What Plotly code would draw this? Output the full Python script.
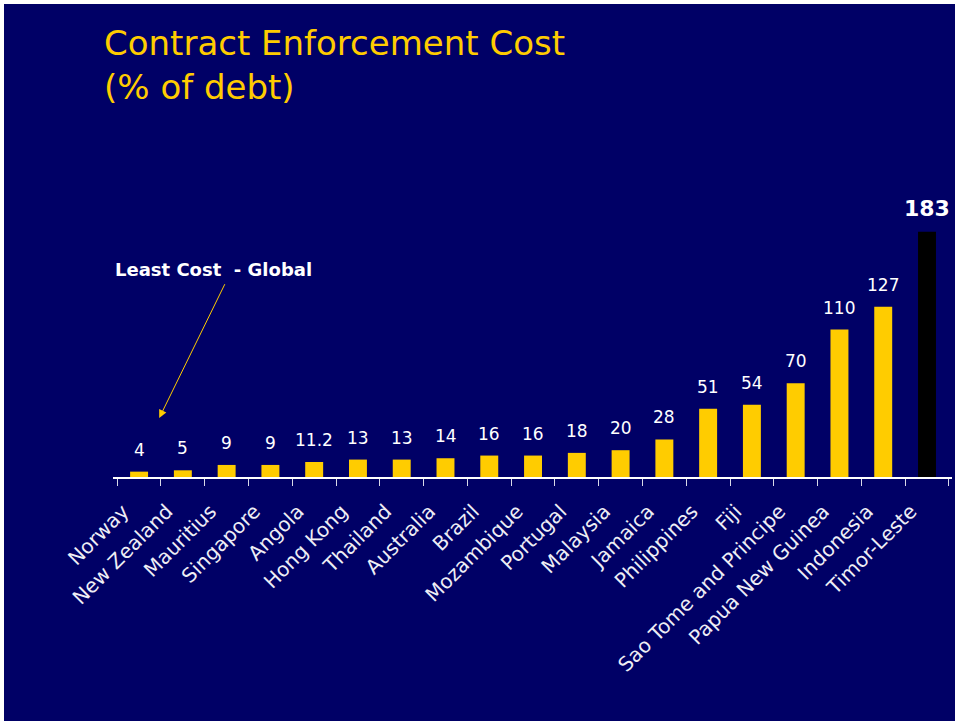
import plotly.graph_objects as go

countries = ["Norway", "New Zealand", "Mauritius", "Singapore", "Angola", "Hong Kong",
             "Thailand", "Australia", "Brazil", "Mozambique", "Portugal", "Malaysia",
             "Jamaica", "Philippines", "Fiji", "Sao Tome and Principe",
             "Papua New Guinea", "Indonesia", "Timor-Leste"]
values = [4, 5, 9, 9, 11.2, 13, 13, 14, 16, 16, 18, 20, 28, 51, 54, 70, 110, 127, 183]
labels = ["4", "5", "9", "9", "11.2", "13", "13", "14", "16", "16", "18", "20", "28",
          "51", "54", "70", "110", "127", "183"]
highlight = "Timor-Leste"

NAVY = "#000066"
GOLD = "#FFCC00"
FONT = "DejaVu Sans"

colors = ["#000000" if c == highlight else GOLD for c in countries]

fig = go.Figure()
fig.add_trace(go.Bar(x=countries, y=values, marker=dict(color=colors, line=dict(width=0)),
                     hoverinfo="skip"))

W, H = 955, 721
ml, mr, mt, mb = 113, 3, 209, 244

annotations = []
for i, (c, v, t) in enumerate(zip(countries, values, labels)):
    hi = c == highlight
    annotations.append(dict(
        x=c, y=v, xref="x", yref="y", text=f"<b>{t}</b>" if hi else t,
        showarrow=False, yanchor="bottom", yshift=9 if hi else 10,
        font=dict(family=FONT, size=22 if hi else 17, color="white")))

pw, ph = W - ml - mr, H - mt - mb
def px_x(p):
    return (p - ml) / pw
def px_y(p):
    return (H - mb - p) / ph

# title
annotations.append(dict(x=px_x(102), y=px_y(21), xref="paper", yref="paper",
                        xanchor="left", yanchor="top", align="left", showarrow=False,
                        text="Contract Enforcement Cost<br>(% of debt)",
                        font=dict(family=FONT, size=34, color=GOLD)))

# "Least Cost - Global" callout
annotations.append(dict(x=1.70, y=155, xref="x", yref="y", text="<b>Least Cost  - Global</b>",
                        showarrow=False, font=dict(family=FONT, size=18, color="white")))
annotations.append(dict(x=0.46, y=44, xref="x", yref="y", ax=1.975, ay=145,
                        axref="x", ayref="y", text="", showarrow=True,
                        arrowhead=2, arrowsize=1.6, arrowwidth=1, arrowcolor=GOLD))

# white strips at top / left edges
shapes = [
    dict(type="rect", xref="paper", yref="paper", x0=px_x(-2), x1=px_x(4), y0=px_y(H + 2), y1=px_y(-2),
         fillcolor="white", line=dict(width=0), layer="above"),
    dict(type="rect", xref="paper", yref="paper", x0=px_x(-2), x1=px_x(W + 2), y0=px_y(4), y1=px_y(-2),
         fillcolor="white", line=dict(width=0), layer="above"),
]

fig.update_layout(
    width=W, height=H,
    margin=dict(l=ml, r=mr, t=mt, b=mb, pad=0),
    paper_bgcolor=NAVY, plot_bgcolor=NAVY,
    showlegend=False,
    bargap=0.59,
    xaxis=dict(type="category", tickangle=-45, tickson="boundaries", ticks="outside",
               ticklen=7, tickcolor="#D8D8E8", tickwidth=1,
               ticklabelstandoff=13, ticklabelshift=-16,
               showline=True, linecolor="white", linewidth=1.5, showgrid=False,
               tickfont=dict(family=FONT, size=20, color="#EEEEF5"), fixedrange=True),
    yaxis=dict(range=[0, 200], visible=False, showgrid=False, zeroline=False, fixedrange=True),
    annotations=annotations,
    shapes=shapes,
)

fig.write_html("out.html", config={"displayModeBar": False},
               post_script="document.body.style.margin='0';document.body.style.overflow='hidden';")
